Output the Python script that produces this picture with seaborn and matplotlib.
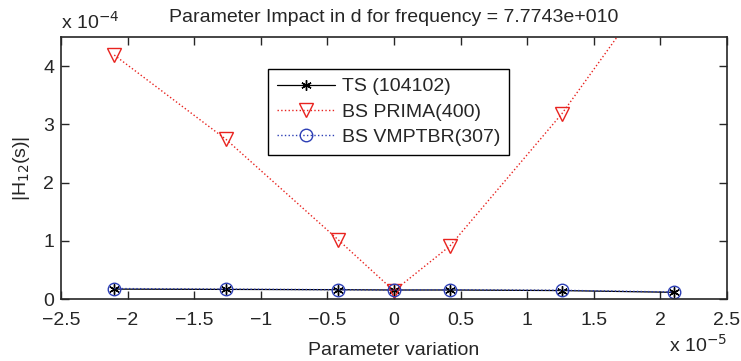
import numpy as np
import pandas as pd
import matplotlib
matplotlib.use("Agg")
import matplotlib.pyplot as plt
import seaborn as sns
from matplotlib.ticker import FuncFormatter, MultipleLocator

# Data
x_vals = [-2.1e-5, -1.26e-5, -0.42e-5, 0.0, 0.42e-5, 1.26e-5, 2.1e-5]
ts_vals = [0.17e-4, 0.165e-4, 0.16e-4, 0.155e-4, 0.155e-4, 0.145e-4, 0.115e-4]
prima_vals = [4.19e-4, 2.74e-4, 1.02e-4, 0.14e-4, 0.91e-4, 3.18e-4, 5.85e-4]
vmptbr_vals = [0.18e-4, 0.17e-4, 0.16e-4, 0.155e-4, 0.16e-4, 0.15e-4, 0.12e-4]
labels = ["TS (104102)", "BS PRIMA(400)", "BS VMPTBR(307)"]

sns.set_style("ticks")
plt.rcParams['font.family'] = ['Liberation Sans', 'DejaVu Sans']
FS = 14

df = pd.DataFrame({
    "x": x_vals * 3,
    "y": ts_vals + prima_vals + vmptbr_vals,
    "series": [labels[0]] * 7 + [labels[1]] * 7 + [labels[2]] * 7,
})

fig = plt.figure(figsize=(7.41, 3.61), dpi=100)
ax = fig.add_axes([0.0823, 0.1717, 0.8987, 0.7258])

styles = {
    labels[0]: dict(color="black", ls="-", marker=(6, 2, 0), mfc="black", ms=7.5, lw=0.9),
    labels[1]: dict(color="#e8231f", ls=":", marker="v", mfc="none", ms=9.5, lw=1.0),
    labels[2]: dict(color="#2d3fb5", ls=":", marker="o", mfc="none", ms=9, lw=1.0),
}

for lab in labels:
    sub = df[df.series == lab]
    st = styles[lab]
    sns.lineplot(data=sub, x="x", y="y", ax=ax, label=lab, color=st["color"],
                 linestyle=st["ls"], marker=st["marker"], markersize=st["ms"],
                 markerfacecolor=st["mfc"], markeredgecolor=st["color"],
                 markeredgewidth=1.0, linewidth=st["lw"], sort=False)

ax.set_xlim(-2.5e-5, 2.5e-5)
ax.set_ylim(0, 4.5e-4)
ax.xaxis.set_major_locator(MultipleLocator(0.5e-5))
ax.yaxis.set_major_locator(MultipleLocator(1e-4))
ax.xaxis.set_major_formatter(FuncFormatter(lambda v, p: ("%g" % round(v / 1e-5, 3)).replace("-", "\u2212")))
ax.yaxis.set_major_formatter(FuncFormatter(lambda v, p: "%g" % round(v / 1e-4, 3)))
ax.tick_params(direction="in", top=True, right=True, labelsize=FS, length=6, width=1, pad=5)
ax.tick_params(axis="x", pad=9)
for s in ax.spines.values():
    s.set_linewidth(1.2)
    s.set_visible(True)

ax.set_xlabel("Parameter variation", fontsize=FS, labelpad=10)
ax.set_ylabel("|H$_{12}$(s)|", fontsize=FS, labelpad=8)
ax.set_title("Parameter Impact in d for frequency = 7.7743e+010", fontsize=FS, pad=11)

fig.text(61 / 741, 1 - 22 / 361, "x 10$^{-4}$", fontsize=FS, ha="left", va="center")
fig.text(727 / 741, 1 - 345 / 361, "x 10$^{-5}$", fontsize=FS, ha="right", va="center")

leg = ax.legend(loc="upper left", bbox_to_anchor=(0.311, 0.878), fontsize=FS,
                frameon=True, fancybox=False, edgecolor="black", framealpha=1,
                borderaxespad=0, handlelength=3.0, borderpad=0.45, labelspacing=0.4,
                handletextpad=0.36)
leg.get_frame().set_linewidth(1.0)

fig.savefig("out.png", dpi=100)
